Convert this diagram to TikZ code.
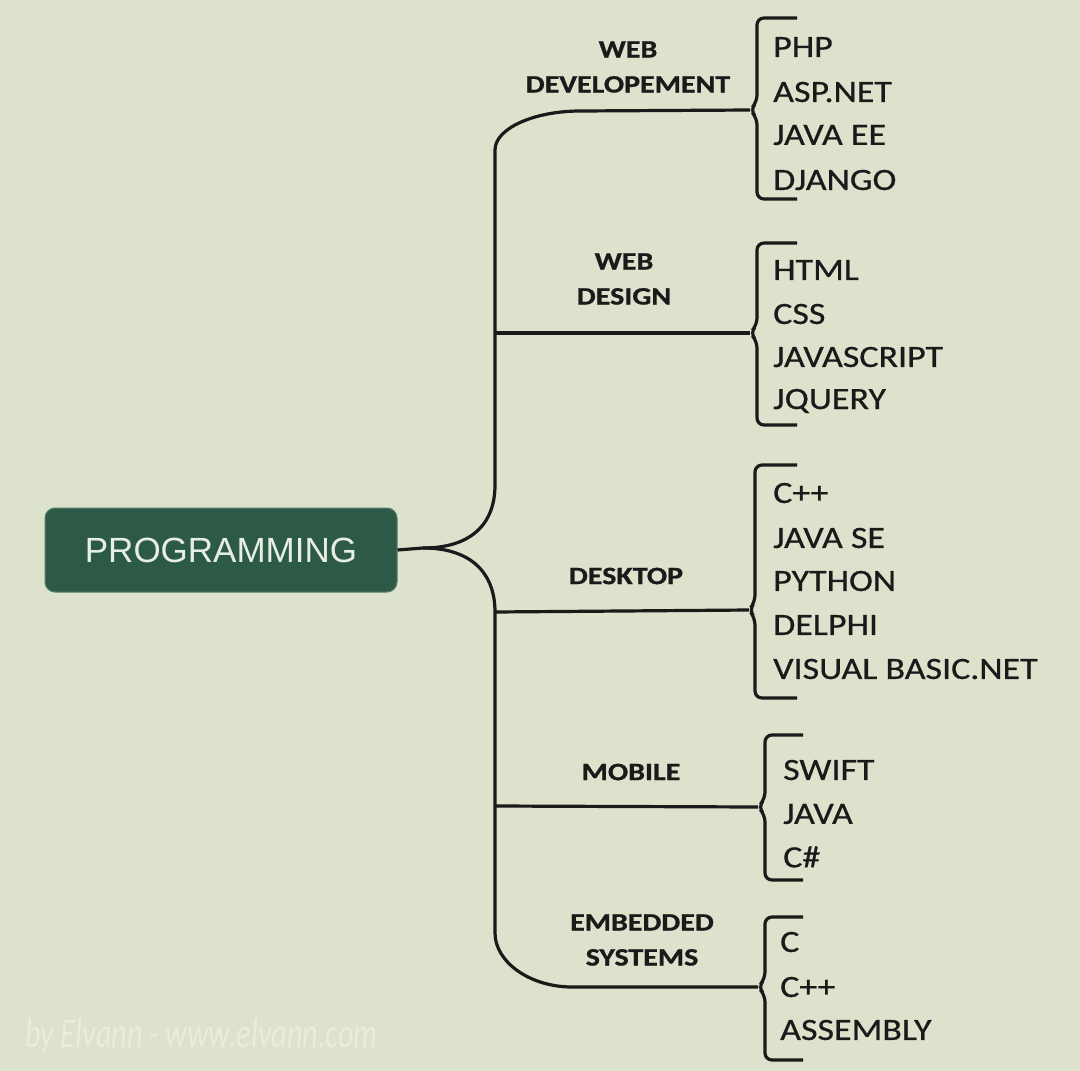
\documentclass[tikz,border=0pt]{standalone}
\usepackage{fontspec}
\newfontface\itemfont[FakeBold=0.6,FakeStretch=1.16]{Carlito}
\newfontface\catfont[FakeBold=0.9,FakeStretch=1.2]{Carlito Bold}
\newfontface\wmfont[FakeStretch=0.72]{Carlito Italic}
\newfontfamily\arialfont{Liberation Sans}
\definecolor{bgcol}{HTML}{DCE2CB}
\definecolor{boxcol}{HTML}{2D5A47}
\definecolor{boxtext}{HTML}{E6EFE2}
\definecolor{inkcol}{HTML}{1A1A1A}
\definecolor{wmcol}{HTML}{E9EDDB}
\begin{document}
\begin{tikzpicture}[x=1pt,y=-1pt,
  conn/.style={draw=inkcol,line width=3.2pt},
  brace/.style={draw=inkcol,line width=3.2pt,rounded corners=7pt},
  cat/.style={font=\catfont\fontsize{25}{25}\selectfont,text=inkcol,inner sep=0pt,align=center},
  item/.style={font=\itemfont\fontsize{31}{31}\selectfont,text=inkcol,inner sep=0pt,anchor=west},
  rootbox/.style={fill=boxcol,draw=boxcol!80!white,line width=1pt,rounded corners=10pt,minimum width=352pt,minimum height=84pt,text=boxtext,font=\arialfont\fontsize{35}{35}\selectfont}
]
\fill[bgcol] (0,0) rectangle (1080,1071);
\useasboundingbox (0,0) rectangle (1080,1071);

% root
\node[rootbox] (root) at (221,550) {PROGRAMMING};
\coordinate (hub) at (423,548);

% category labels
\node[cat] (webdev) at (628,67) {WEB\\[10pt]DEVELOPEMENT};
\node[cat] (webdes) at (624,279) {WEB\\[10pt]DESIGN};
\node[cat] (desk) at (626,576) {DESKTOP};
\node[cat] (mob) at (631,772) {MOBILE};
\node[cat] (emb) at (642,940) {EMBEDDED\\[10pt]SYSTEMS};

% bracket tips
\coordinate (t1) at (750,110);
\coordinate (t2) at (750,333);
\coordinate (t3) at (749,610);
\coordinate (t4) at (758,807);
\coordinate (t5) at (758,987);

% trunk coordinates
\coordinate (j2) at (495,333);
\coordinate (j3) at (495,612);
\coordinate (j4) at (495,806);

% braces
\draw[brace] (797,18) -- (757,18) -- (757,102) -- (t1) -- (757,118) -- (757,199) -- (797,199);
\draw[brace] (797,243) -- (757,243) -- (757,325) -- (t2) -- (757,341) -- (757,425) -- (797,425);
\draw[brace] (797,465) -- (755,465) -- (755,602) -- (t3) -- (755,618) -- (755,698) -- (797,698);
\draw[brace] (803,735) -- (765,735) -- (765,799) -- (t4) -- (765,815) -- (765,880) -- (803,880);
\draw[brace] (803,917) -- (765,917) -- (765,979) -- (t5) -- (765,995) -- (765,1060) -- (803,1060);

% connectors
\draw[conn] (root.east) -- (hub);
\draw[conn] (hub) .. controls (470,548) and (495,525) .. (495,485) -- (495,150)
   .. controls (495,128) and (535,111) .. (580,111) -- (t1);
\draw[conn] (hub) .. controls (470,548) and (495,572) .. (495,612) -- (495,933)
   .. controls (495,962) and (530,987) .. (572,987) -- (t5);
\draw[conn] (j2) -- (t2);
\draw[conn] (j3) -- (t3);
\draw[conn] (j4) -- (t4);

% items
\node[item] (i11) at (773,47) {PHP};
\node[item] (i12) at (773,92) {ASP.NET};
\node[item] (i13) at (773,135) {JAVA EE};
\node[item] (i14) at (773,180) {DJANGO};

\node[item] (i21) at (773,270) {HTML};
\node[item] (i22) at (773,314) {CSS};
\node[item] (i23) at (773,357) {JAVASCRIPT};
\node[item] (i24) at (773,401) {JQUERY};

\node[item] (i31) at (773,493) {C++};
\node[item] (i32) at (773,538) {JAVA SE};
\node[item] (i33) at (773,581) {PYTHON};
\node[item] (i34) at (773,625) {DELPHI};
\node[item] (i35) at (773,669) {VISUAL BASIC.NET};

\node[item] (i41) at (783,770) {SWIFT};
\node[item] (i42) at (783,814) {JAVA};
\node[item] (i43) at (783,857) {C\#};

\node[item] (i51) at (780,942) {C};
\node[item] (i52) at (780,987) {C++};
\node[item] (i53) at (780,1030) {ASSEMBLY};

% watermark
\node[anchor=west,inner sep=0pt,text=wmcol,font=\wmfont\fontsize{42}{42}\selectfont] (wm) at (25,1036) {by Elvann - www.elvann.com};
\end{tikzpicture}
\end{document}
